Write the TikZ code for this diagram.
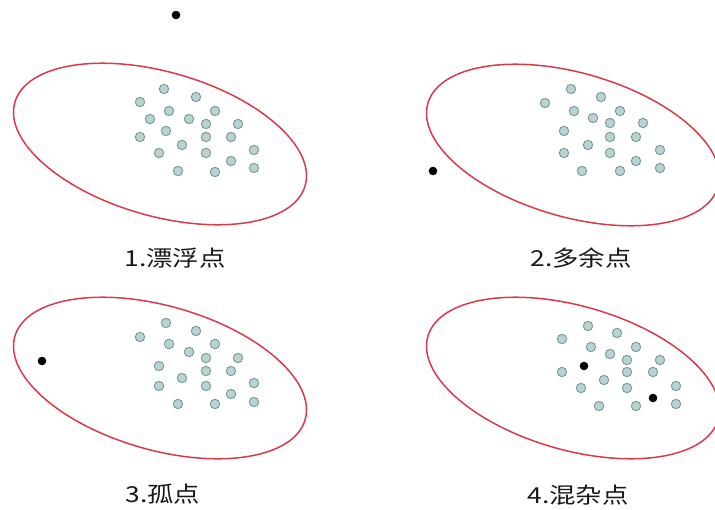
\documentclass[tikz,border=0pt]{standalone}
\usepackage{fontspec}
\setmainfont{Noto Sans CJK SC}
\definecolor{ellred}{HTML}{D93A48}
\definecolor{dotfill}{HTML}{B9D3D2}
\definecolor{dotline}{HTML}{7E9E9E}
\tikzset{
  ell/.style={draw=ellred, line width=1.5pt},
  gdot/.style={fill=dotfill, draw=dotline, line width=1pt},
  bdot/.style={fill=black},
  lab/.style={font=\fontsize{22}{22}\selectfont, text=black!90, inner sep=0pt, xscale=1.2}
}
\newcommand{\gd}[2]{\path[gdot] (#1,#2) circle[radius=4.7];}
\newcommand{\bd}[2]{\path[bdot] (#1,#2) circle[radius=4.3];}
\begin{document}
\begin{tikzpicture}[x=1pt,y=-1pt]
\useasboundingbox (0,0) rectangle (715,509);
% panel 1
\draw[ell] (160,144) ellipse [x radius=151, y radius=72, rotate=-16];
\foreach \p/\q in {164/89,196/97,140/102,169/111,215/111,150/119,189/119,206/124,238/124,166/131,140/137,206/137,231/137,182/145,159/153,206/153,254/150,231/161,178/171,215/172,254/168}
  {\gd{\p}{\q}}
\bd{176}{15}
\node[lab] (l1) at (175,258) {1.漂浮点};
% panel 2
\draw[ell] (573,145) ellipse [x radius=151, y radius=72, rotate=-16];
\foreach \p/\q in {571/89,601/97,545/103,574/111,620/111,593/118,610/123,643/123,564/131,610/137,636/137,588/145,564/153,610/153,660/150,636/161,582/171,620/171,660/168}
  {\gd{\p}{\q}}
\bd{433}{171}
\node[lab] (l2) at (581,258) {2.多余点};
% panel 3
\draw[ell] (160,378) ellipse [x radius=151, y radius=72, rotate=-16];
\foreach \p/\q in {166/323,196/331,140/337,169/344,215/344,189/352,206/358,238/358,159/366,206/371,231/371,182/378,159/386,206/386,254/383,231/394,178/404,215/404,254/402}
  {\gd{\p}{\q}}
\bd{42}{361}
\node[lab] (l3) at (163,494) {3.孤点};
% panel 4
\draw[ell] (573,378) ellipse [x radius=151, y radius=72, rotate=-16];
\foreach \p/\q in {588/326,617/333,562/339,591/347,636/347,610/354,627/360,660/360,562/372,627/372,653/372,604/380,581/388,627/388,676/386,599/406,636/406,676/404}
  {\gd{\p}{\q}}
\bd{584}{366}
\bd{653}{398}
\node[lab] (l4) at (578,495) {4.混杂点};
\end{tikzpicture}
\end{document}
